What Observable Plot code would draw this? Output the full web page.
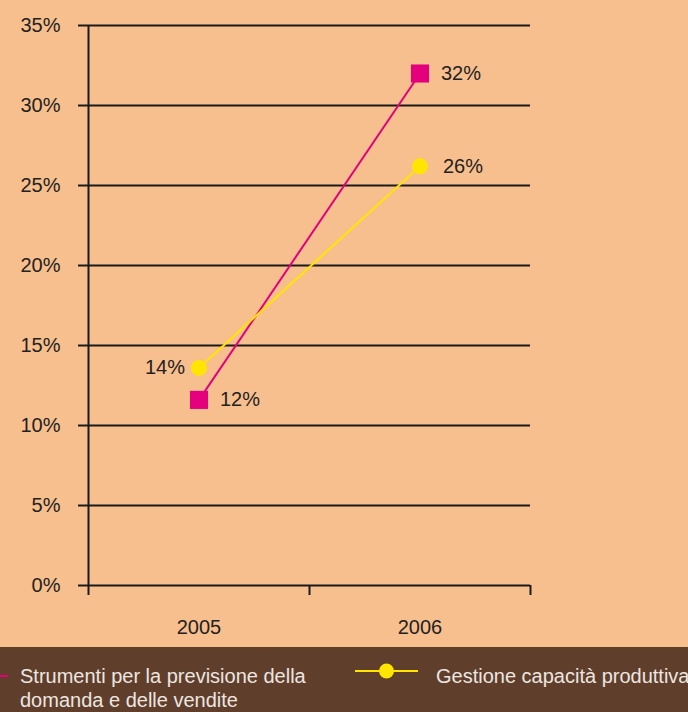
<!DOCTYPE html>
<html>
<head>
<meta charset="utf-8">
<script src="https://cdn.jsdelivr.net/npm/d3@7"></script>
<script src="https://cdn.jsdelivr.net/npm/@observablehq/plot@0.6"></script>
<style>
  body { margin: 0; background: #F8BF8E; width: 688px; height: 712px; overflow: hidden; }
  #legend { position: relative; height: 65px; background: #5F3E2B; overflow: hidden;
            font-family: "Liberation Sans", Arial, sans-serif; font-size: 20px; color: #EDE6E0; }
  #legend .txt { position: absolute; line-height: 24px; white-space: nowrap; }
  #legend svg { position: absolute; overflow: visible; }
</style>
</head>
<body>
<div id="chart"></div>
<div id="legend"></div>
<script>
const years = ["2005", "2006"];
const seriesNames = ["Strumenti per la previsione della domanda e delle vendite", "Gestione capacità produttiva"];
const strumenti = [11.6, 32.0];
const gestione = [13.6, 26.2];
const yTicks = [0, 5, 10, 15, 20, 25, 30, 35];
const colors = ["#E4007C", "#FFE500"];

const rows = [];
years.forEach((yr, i) => {
  rows.push({series: seriesNames[0], idx: i + 0.5, value: strumenti[i]});
  rows.push({series: seriesNames[1], idx: i + 0.5, value: gestione[i]});
});
const sRows = rows.filter(d => d.series === seriesNames[0]);
const gRows = rows.filter(d => d.series === seriesNames[1]);
const fmt = v => d3.format(".0f")(v) + "%";
const ink = "#1a1a1a";

const chart = Plot.plot({
  width: 688,
  height: 647,
  marginLeft: 88,
  marginRight: 158,
  marginTop: 25,
  marginBottom: 62,
  style: {background: "transparent", fontFamily: "'Liberation Sans', Arial, sans-serif", fontSize: "20px", color: "#222"},
  x: {domain: [0, years.length], axis: null},
  y: {domain: [0, 35], axis: null},
  marks: [
    Plot.ruleY(yTicks, {stroke: ink, strokeWidth: 2}),
    Plot.axisY({ticks: yTicks, tickSize: 10, tickPadding: 18, tickFormat: d => d + "%", stroke: ink, strokeWidth: 2, label: null, fill: "#222"}),
    Plot.ruleX([0], {stroke: ink, strokeWidth: 2}),
    Plot.axisX({ticks: d3.range(years.length + 1), tickSize: 10, tickFormat: () => "", stroke: ink, strokeWidth: 2, label: null}),
    Plot.axisX({ticks: years.map((y, i) => i + 0.5), tickSize: 0, tickPadding: 34, tickFormat: d => years[Math.floor(d)], label: null, fill: "#222"}),
    Plot.line(sRows, {x: "idx", y: "value", stroke: colors[0], strokeWidth: 2}),
    Plot.line(gRows, {x: "idx", y: "value", stroke: colors[1], strokeWidth: 2}),
    Plot.dot(sRows, {x: "idx", y: "value", symbol: "square", r: 10.2, fill: colors[0], stroke: null}),
    Plot.dot(gRows, {x: "idx", y: "value", symbol: "circle", r: 8, fill: colors[1], stroke: null}),
    Plot.text(sRows, {x: "idx", y: "value", text: d => fmt(d.value), dx: 21, textAnchor: "start", fill: "#222"}),
    Plot.text(gRows.slice(0, 1), {x: "idx", y: "value", text: d => fmt(d.value), dx: -14, textAnchor: "end", fill: "#222"}),
    Plot.text(gRows.slice(1), {x: "idx", y: "value", text: d => fmt(d.value), dx: 23, textAnchor: "start", fill: "#222"})
  ]
});
document.getElementById("chart").appendChild(chart);

// Legend
const legend = document.getElementById("legend");
const items = [
  {name: "Strumenti per la previsione della<br>domanda e delle vendite", color: colors[0], symbol: "square", lineLeft: -55, lineY: 29, textLeft: 20},
  {name: seriesNames[1], color: colors[1], symbol: "circle", lineLeft: 355, lineY: 24, textLeft: 436}
];
items.forEach(it => {
  const svg = d3.create("svg").attr("width", 63).attr("height", 20)
    .style("left", it.lineLeft + "px").style("top", (it.lineY - 10) + "px");
  svg.append("line").attr("x1", 0).attr("x2", 63).attr("y1", 10).attr("y2", 10)
    .attr("stroke", it.color).attr("stroke-width", 2);
  if (it.symbol === "square") {
    svg.append("rect").attr("x", 31.5 - 8).attr("y", 2).attr("width", 16).attr("height", 16).attr("fill", it.color);
  } else {
    svg.append("circle").attr("cx", 31.5).attr("cy", 10).attr("r", 7.5).attr("fill", it.color);
  }
  legend.appendChild(svg.node());
  const t = document.createElement("div");
  t.className = "txt";
  t.style.left = it.textLeft + "px";
  t.style.top = "17px";
  t.innerHTML = it.name;
  legend.appendChild(t);
});
</script>
</body>
</html>
